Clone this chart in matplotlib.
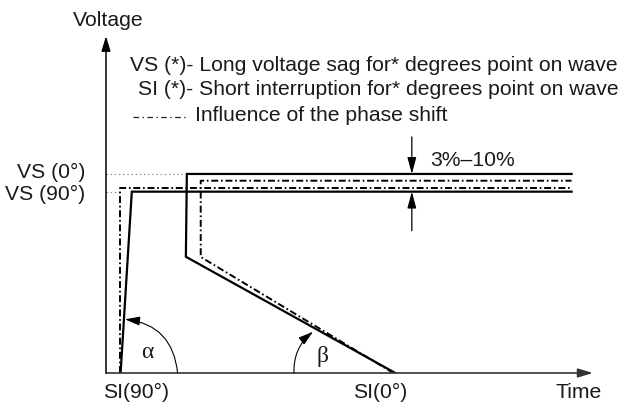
import matplotlib.pyplot as plt
from matplotlib.lines import Line2D

plt.rcParams['font.family'] = ['Liberation Sans', 'DejaVu Sans']
plt.rcParams['lines.scale_dashes'] = False

# voltage (p.u. of the sag level) against time, arbitrary units
t_vs90 = [0.30, 0.53, 9.56]
v_vs90 = [0.0, 0.911, 0.911]
t_vs90_shift = [0.29, 0.29, 9.56]
v_vs90_shift = [0.0, 0.930, 0.930]

t_vs0 = [5.94, 1.64, 1.66, 9.56]
v_vs0 = [0.0, 0.584, 1.0, 1.0]
t_vs0_shift = [5.90, 1.945, 1.945, 9.56]
v_vs0_shift = [0.0, 0.583, 0.966, 0.966]

level_labels = ['VS (0°)', 'VS (90°)']
level_values = [1.0, 0.911]
level_ends = [1.66, 0.29]

si_labels = ['SI(90°)', 'SI(0°)']

t_max, v_max = 10.0, 1.693

W, H = 618, 406
fig = plt.figure(figsize=(W / 100, H / 100), dpi=100)
ax = fig.add_axes([106 / W, (H - 374) / H, (593 - 106) / W, (374 - 37) / H])
ax.set_xlim(0, t_max)
ax.set_ylim(0, v_max)
ax.axis('off')

def ftext(x, y, s, **kw):
    # place text by pixel position from the top-left corner
    kw.setdefault('fontsize', 15.2)
    kw.setdefault('va', 'baseline')
    fig.text(x / W, 1 - y / H, s, color='#1a1a1a', **kw)

def arrow(lw=1.0, color='black', hl=0.9, hw=0.27, **kw):
    return dict(arrowstyle=f'-|>,head_length={hl},head_width={hw}', color=color,
                lw=lw, shrinkA=0, shrinkB=0, mutation_scale=10, **kw)

# axes with arrow heads
ax.annotate('', xy=(t_max, 0), xytext=(0, 0), annotation_clip=False,
            arrowprops=arrow(1.2, '#333333'))
ax.annotate('', xy=(0, v_max), xytext=(0, 0), annotation_clip=False,
            arrowprops=arrow(1.1))

# dotted guides to the voltage levels
for v, t_end in zip(level_values, level_ends):
    ax.plot([0, t_end], [v, v], color='#888888', lw=0.8, ls=(0, (1, 2)))

dashdot = (0, (5, 2, 1.2, 2))
ax.plot(t_vs90_shift, v_vs90_shift, color='black', lw=1.4, ls=dashdot)
ax.plot(t_vs0_shift, v_vs0_shift, color='black', lw=1.4, ls=dashdot)
ax.plot(t_vs90, v_vs90, color='black', lw=1.6, solid_joinstyle='miter')
ax.plot(t_vs0, v_vs0, color='black', lw=1.6, solid_joinstyle='miter')

# 3%-10% band marker
t_band = 6.28
ax.annotate('', xy=(t_band, v_vs0[-1]), xytext=(t_band, 1.186),
            arrowprops=arrow(0.9, hl=1.0))
ax.annotate('', xy=(t_band, v_vs90[-1]), xytext=(t_band, 0.715),
            arrowprops=arrow(0.9, hl=1.0))

# angle arcs
ax.annotate('', xy=(0.39, 0.27), xytext=(1.47, 0.0),
            arrowprops=arrow(0.8, connectionstyle='arc3,rad=0.4'))
ax.annotate('', xy=(4.25, 0.207), xytext=(3.86, 0.0),
            arrowprops=arrow(0.8, connectionstyle='arc3,rad=-0.25'))

serif = ['Liberation Serif', 'DejaVu Serif']
ftext(147, 353, 'α', family=serif, fontsize=17, ha='center', va='center')
ftext(322, 357, 'β', family=serif, fontsize=17, ha='center', va='center')

# labels
ftext(73, 26.5, 'Voltage')
ftext(555, 398, 'Time')
ftext(85, 178.3, level_labels[0], ha='right')
ftext(85, 200, level_labels[1], ha='right')
ftext(103, 398.3, si_labels[0])
ftext(353, 398.3, si_labels[1])
ftext(430, 165.7, '3%–10%')

# key
ftext(130, 70.7, 'VS (*)- Long voltage sag for* degrees point on wave')
ftext(138, 95, 'SI (*)- Short interruption for* degrees point on wave')
ftext(195, 120.7, 'Influence of the phase shift')
fig.add_artist(Line2D([133 / W, 187 / W], [1 - 118 / H, 1 - 118 / H],
                      color='#222222', lw=0.9, ls=(0, (4, 2.5, 1, 2.5))))

fig.savefig('out.png', dpi=100)
